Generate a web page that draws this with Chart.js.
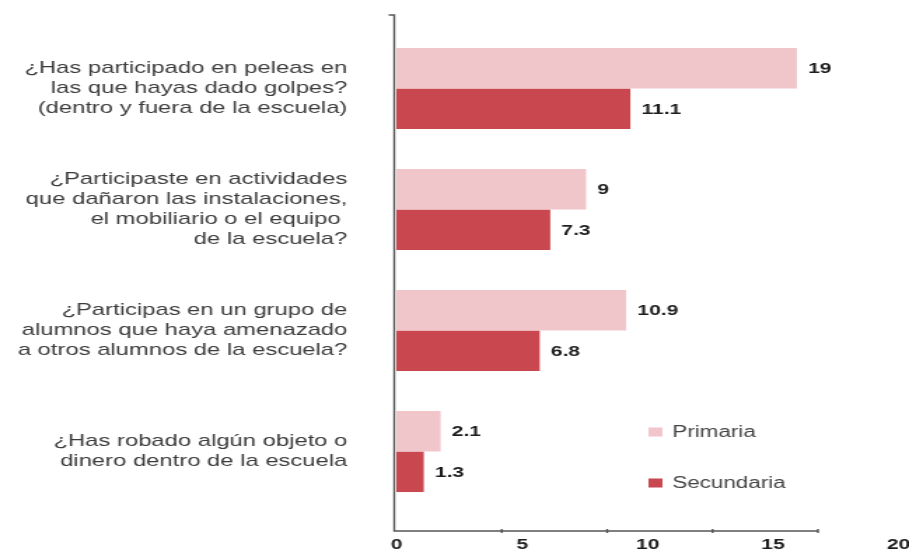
<!DOCTYPE html>
<html>
<head>
<meta charset="utf-8">
<script src="https://cdn.jsdelivr.net/npm/chart.js@4.4.1/dist/chart.umd.min.js"></script>
<style>
  html, body { margin: 0; padding: 0; background: #ffffff; overflow: hidden; }
  /* the original picture is stretched sideways, so the canvas is drawn narrow and widened */
  #wrap { width: 649px; height: 550px; transform: scaleX(1.4006); transform-origin: 0 0; }
</style>
</head>
<body>
<div id="wrap"><canvas id="chartViolencia" width="649" height="550"></canvas></div>
<script>
// ============================================================
// DATOS
// ============================================================
const preguntas = [
    ['¿Has participado en peleas en', 'las que hayas dado golpes?', '(dentro y fuera de la escuela)'],
    ['¿Participaste en actividades', 'que dañaron las instalaciones,', 'el mobiliario o el equipo ', 'de la escuela?'],
    ['¿Participas en un grupo de', 'alumnos que haya amenazado', 'a otros alumnos de la escuela?'],
    ['¿Has robado algún objeto o', 'dinero dentro de la escuela']
];
const valoresPrimaria = [19, 9, 10.9, 2.1];
const valoresSecundaria = [11.1, 7.3, 6.8, 1.3];
const nombresSeries = ['Primaria', 'Secundaria'];
const ticksX = [0, 5, 10, 15, 20];

const coloresSeries = ['#f0c6cb', '#c9474f'];
const FUENTE = "'Liberation Sans', Arial, sans-serif";

// ============================================================
// PLUGIN: ejes, etiquetas de valor y leyenda
// ============================================================
const decoracion = {
    id: 'decoracion',
    afterDatasetsDraw(chart) {
        const ctx = chart.ctx;
        ctx.save();
        ctx.font = 'bold 15px ' + FUENTE;
        ctx.fillStyle = '#1e1e1e';
        ctx.textAlign = 'left';
        ctx.textBaseline = 'middle';
        chart.data.datasets.forEach((ds, i) => {
            chart.getDatasetMeta(i).data.forEach((bar, j) => {
                ctx.fillText(String(ds.data[j]), bar.x + 8, bar.y + 1);
            });
        });
        ctx.restore();
    },
    afterDraw(chart) {
        const ctx = chart.ctx;
        const area = chart.chartArea;
        const x = chart.scales.x;
        const x0 = area.left - 1.5;
        const yEje = area.bottom + 19;

        ctx.save();
        ctx.strokeStyle = '#555555';
        ctx.lineWidth = 1.4;
        ctx.beginPath();
        ctx.moveTo(x0 - 4, area.top - 13);
        ctx.lineTo(x0, area.top - 13);
        ctx.lineTo(x0, yEje);
        ctx.lineTo(x.getPixelForValue(ticksX[ticksX.length - 1]), yEje);
        ctx.stroke();

        // marcas del eje x
        ticksX.slice(1).forEach(v => {
            let px = x.getPixelForValue(v);
            ctx.beginPath();
            ctx.moveTo(px, yEje - 2);
            ctx.lineTo(px, yEje + 2);
            ctx.stroke();
        });

        // etiquetas del eje x (en el original quedan más abiertas que las marcas)
        ctx.font = 'bold 15px ' + FUENTE;
        ctx.fillStyle = '#1e1e1e';
        ctx.textAlign = 'center';
        ctx.textBaseline = 'middle';
        ticksX.forEach(v => {
            let px = x.getPixelForValue(v);
            ctx.fillText(String(v), x0 + (px - x0) * 1.19, yEje + 14);
        });

        // leyenda
        ctx.font = '16px ' + FUENTE;
        ctx.textAlign = 'left';
        nombresSeries.forEach((nombre, i) => {
            let ly = area.top + 404 + i * 51;
            ctx.fillStyle = coloresSeries[i];
            ctx.fillRect(area.left + 180, ly - 4.5, 10, 9);
            ctx.fillStyle = '#444444';
            ctx.fillText(nombre, area.left + 197, ly + 1);
        });
        ctx.restore();
    }
};

// ============================================================
// GRÁFICO
// ============================================================
const ctx = document.getElementById('chartViolencia').getContext('2d');
Chart.defaults.font.family = FUENTE;

new Chart(ctx, {
    type: 'bar',
    data: {
        labels: preguntas,
        datasets: [
            { label: nombresSeries[0], data: valoresPrimaria, backgroundColor: coloresSeries[0] },
            { label: nombresSeries[1], data: valoresSecundaria, backgroundColor: coloresSeries[1] }
        ]
    },
    options: {
        indexAxis: 'y',
        responsive: false,
        animation: false,
        categoryPercentage: 0.67,
        barPercentage: 1.0,
        layout: { padding: { left: 0, right: 65, top: 28, bottom: 38 } },
        plugins: {
            legend: { display: false },
            tooltip: { enabled: false }
        },
        scales: {
            x: {
                display: false,
                min: 0,
                max: 20
            },
            y: {
                grid: { display: false, drawTicks: false },
                border: { display: false },
                ticks: {
                    color: '#3c3c3c',
                    padding: 35,
                    font: { size: 17, lineHeight: 1.18 }
                },
                afterFit(scale) {
                    scale.width = 283;
                    // sin relleno extra arriba/abajo por las etiquetas de varias líneas
                    scale.paddingTop = 0;
                    scale.paddingBottom = 0;
                }
            }
        }
    },
    plugins: [decoracion]
});
</script>
</body>
</html>
